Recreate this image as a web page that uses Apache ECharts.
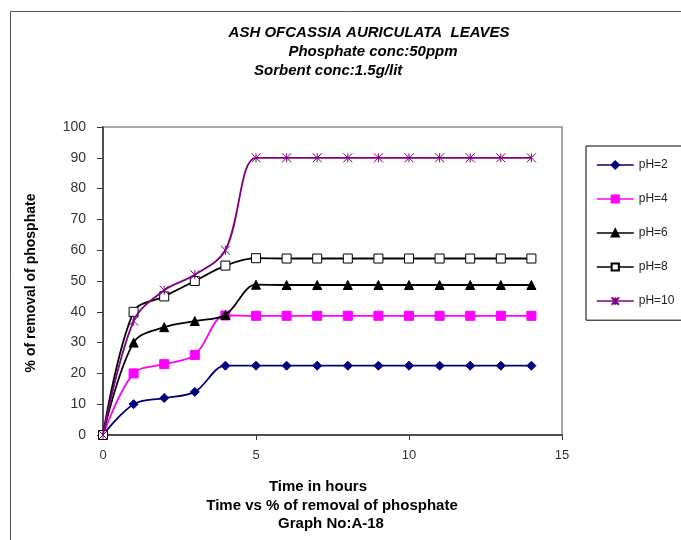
<!DOCTYPE html>
<html>
<head>
<meta charset="utf-8">
<script src="https://cdn.jsdelivr.net/npm/echarts@6/dist/echarts.min.js"></script>
<style>html,body{margin:0;padding:0;background:#fff;}#c{width:681px;height:540px;}</style>
</head>
<body>
<div id="c"></div>
<script>
const hours = [0,1,2,3,4,5,6,7,8,9,10,11,12,13,14];
const ph2  = [0,10,12,14,22.5,22.5,22.5,22.5,22.5,22.5,22.5,22.5,22.5,22.5,22.5];
const ph4  = [0,20,23,26,38.8,38.7,38.7,38.7,38.7,38.7,38.7,38.7,38.7,38.7,38.7];
const ph6  = [0,30,35,37,39,48.8,48.7,48.7,48.7,48.7,48.7,48.7,48.7,48.7,48.7];
const ph8  = [0,40,45,50,55,57.4,57.3,57.3,57.3,57.3,57.3,57.3,57.3,57.3,57.3];
const ph10 = [0,37,47,52,60,90,90,90,90,90,90,90,90,90,90];
const seriesNames = ['pH=2','pH=4','pH=6','pH=8','pH=10'];
const xTicks = [0,5,10,15];
const yTicks = [0,10,20,30,40,50,60,70,80,90,100];

const font = '"Liberation Sans", Arial, sans-serif';
const star = 'path://M0,0L10,10M10,0L0,10M5,0L5,10';

function pts(arr){ return hours.map((h,i)=>[h,arr[i]]); }

const styles = [
  {color:'#000080', symbol:'diamond', size:9, fill:'#000080', border:'#000080'},
  {color:'#FF00FF', symbol:'rect', size:9, fill:'#FF00FF', border:'#FF00FF'},
  {color:'#000000', symbol:'triangle', size:9, fill:'#000000', border:'#000000'},
  {color:'#000000', symbol:'rect', size:9, fill:'#FFFFFF', border:'#000000'},
  {color:'#800080', symbol:star, size:9, fill:'none', border:'#800080'}
];
const data = [ph2, ph4, ph6, ph8, ph10];

const series = data.map((d,i)=>({
  name: seriesNames[i],
  type:'line',
  data: pts(d),
  smooth: 0.35,
  symbol: styles[i].symbol,
  symbolSize: styles[i].size,
  showAllSymbol: true,
  lineStyle:{color:styles[i].color, width:1.8},
  itemStyle:{color:styles[i].fill, borderColor:styles[i].border, borderWidth:1},
  emphasis:{disabled:true},
  z: 3 + i
}));

const chart = echarts.init(document.getElementById('c'), null, {renderer:'canvas'});
chart.setOption({
  animation:false,
  backgroundColor:'#ffffff',
  grid:{left:103, top:127, width:459, height:308, show:true, borderColor:'#8c8c8c', borderWidth:1.5, backgroundColor:'transparent'},
  xAxis:{
    type:'value', min:0, max:15, interval:5,
    axisLine:{show:true, lineStyle:{color:'#333', width:1.5}},
    axisTick:{show:true, inside:false, length:5, lineStyle:{color:'#333'}},
    axisLabel:{color:'#333', fontSize:13, fontFamily:font, margin:14,
      formatter:(v)=> xTicks.indexOf(v)>=0 ? String(v) : ''},
    splitLine:{show:false}
  },
  yAxis:{
    type:'value', min:0, max:100, interval:10,
    axisLine:{show:true, lineStyle:{color:'#333', width:1.5}},
    axisTick:{show:true, inside:false, length:6, lineStyle:{color:'#333'}},
    axisLabel:{color:'#333', fontSize:14, fontFamily:font, margin:17,
      formatter:(v)=> yTicks.indexOf(v)>=0 ? String(v) : ''},
    splitLine:{show:false}
  },
  legend:{
    orient:'vertical', left:586, top:146,
    width: 200,
    data: seriesNames,
    itemWidth:37, itemHeight:9, itemGap:22,
    padding:[13,60,13,10],
    borderColor:'#000', borderWidth:1,
    lineStyle:{width:1.5},
    textStyle:{color:'#222', fontSize:12, fontFamily:font},
    selectedMode:false
  },
  series: series,
  graphic:[
    {type:'rect', left:8, top:9, shape:{width:720, height:600}, style:{fill:'none', stroke:'#555', lineWidth:1}, z:-10, silent:true},
    {type:'text', x:369, y:33, style:{text:'ASH OFCASSIA AURICULATA  LEAVES', font:'italic bold 15px "Liberation Sans", Arial, sans-serif', fill:'#000', textAlign:'center', textVerticalAlign:'middle'}},
    {type:'text', x:373, y:52, style:{text:'Phosphate conc:50ppm', font:'italic bold 15px "Liberation Sans", Arial, sans-serif', fill:'#000', textAlign:'center', textVerticalAlign:'middle'}},
    {type:'text', x:254, y:71, style:{text:'Sorbent conc:1.5g/lit', font:'italic bold 15px "Liberation Sans", Arial, sans-serif', fill:'#000', textAlign:'left', textVerticalAlign:'middle'}},
    {type:'text', x:318, y:487, style:{text:'Time in hours', font:'bold 15px "Liberation Sans", Arial, sans-serif', fill:'#000', textAlign:'center', textVerticalAlign:'middle'}},
    {type:'text', x:332, y:506, style:{text:'Time vs % of removal of phosphate', font:'bold 15px "Liberation Sans", Arial, sans-serif', fill:'#000', textAlign:'center', textVerticalAlign:'middle'}},
    {type:'text', x:331, y:524, style:{text:'Graph No:A-18', font:'bold 15px "Liberation Sans", Arial, sans-serif', fill:'#000', textAlign:'center', textVerticalAlign:'middle'}},
    {type:'text', x:31, y:283, rotation:Math.PI/2, style:{text:'% of removal of phosphate', font:'bold 14px "Liberation Sans", Arial, sans-serif', fill:'#000', textAlign:'center', textVerticalAlign:'middle'}}
  ]
});
</script>
</body>
</html>
